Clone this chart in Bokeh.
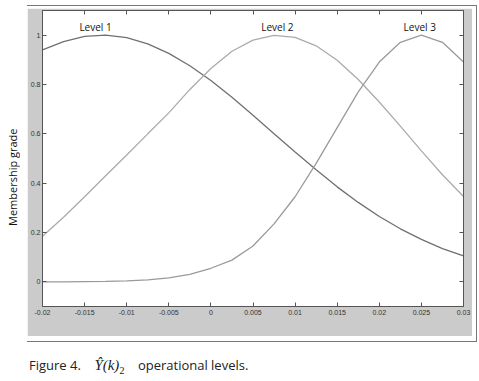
from bokeh.plotting import figure
from bokeh.models import (Range1d, FixedTicker, LinearAxis, Label, Div, Spacer,
                          ColumnDataSource)
from bokeh.layouts import row, column
from bokeh.core.properties import value
from bokeh.embed import file_html
from bokeh.resources import INLINE

# ---------------- data ----------------
service = [-0.02, -0.0175, -0.015, -0.0125, -0.01, -0.0075, -0.005, -0.0025, 0.0,
           0.0025, 0.005, 0.0075, 0.01, 0.0125, 0.015, 0.0175, 0.02, 0.0225,
           0.025, 0.0275, 0.03]
level1 = [0.940, 0.974, 0.995, 1.000, 0.990, 0.965, 0.926, 0.876, 0.816, 0.748,
          0.675, 0.600, 0.526, 0.454, 0.385, 0.322, 0.265, 0.215, 0.172, 0.135, 0.105]
level2 = [0.185, 0.262, 0.345, 0.430, 0.514, 0.600, 0.685, 0.780, 0.865, 0.935,
          0.980, 0.999, 0.991, 0.957, 0.898, 0.820, 0.729, 0.631, 0.531, 0.434, 0.346]
level3 = [0.000, 0.000, 0.001, 0.002, 0.004, 0.008, 0.016, 0.030, 0.055, 0.088,
          0.145, 0.235, 0.345, 0.480, 0.625, 0.770, 0.891, 0.971, 1.000, 0.971, 0.891]
level_names = ["Level 1", "Level 2", "Level 3"]

x_ticks = [-0.02, -0.015, -0.01, -0.005, 0.0, 0.005, 0.01, 0.015, 0.02, 0.025, 0.03]
x_tick_labels = ["-0.02", "-0.015", "-0.01", "-0.005", "0", "0.005", "0.01",
                 "0.015", "0.02", "0.025", "0.03"]
y_ticks = [0.0, 0.2, 0.4, 0.6, 0.8, 1.0]
y_tick_labels = ["0", "0.2", "0.4", "0.6", "0.8", "1"]

# label anchors (annotation positions, data units)
level_label_x = [-0.0137, 0.0079, 0.0248]
level_label_y = 1.035

GRAY_BG = "#cbcbcb"
AX = "#555555"
TICK_FONT = "Liberation Sans"

p = figure(width=445, height=328,
           x_range=Range1d(-0.02, 0.03), y_range=Range1d(-0.1, 1.1),
           output_backend="svg", toolbar_location=None,
           min_border_left=13, min_border_right=9, min_border_top=2, min_border_bottom=30,
           border_fill_color=GRAY_BG, background_fill_color="white",
           outline_line_color=AX, margin=(3, 0, 0, 0))
p.grid.visible = False

def style_axis(ax, ticks, labels=None, show_labels=True):
    ax.ticker = FixedTicker(ticks=ticks)
    ax.major_tick_in = 4
    ax.major_tick_out = 0
    ax.minor_tick_line_color = None
    ax.axis_line_color = AX
    ax.major_tick_line_color = AX
    if show_labels:
        ax.major_label_overrides = dict(zip(ticks, labels))
        ax.major_label_text_font = TICK_FONT
        ax.major_label_text_font_size = "7px"
        ax.major_label_text_color = "#333333"
        ax.major_label_standoff = 3
    else:
        ax.major_label_text_font_size = "0px"
        ax.major_label_text_color = None
        ax.major_label_standoff = 0

style_axis(p.xaxis[0], x_ticks, x_tick_labels)
style_axis(p.yaxis[0], y_ticks, y_tick_labels)
p.yaxis[0].major_label_standoff = 2

top_ax = LinearAxis()
style_axis(top_ax, x_ticks, show_labels=False)
p.add_layout(top_ax, "above")
right_ax = LinearAxis()
style_axis(right_ax, y_ticks, show_labels=False)
p.add_layout(right_ax, "right")

src = ColumnDataSource(dict(x=service, l1=level1, l2=level2, l3=level3))
p.line("x", "l1", source=src, line_color="#707070", line_width=1.3)
p.line("x", "l2", source=src, line_color="#ababab", line_width=1.3)
p.line("x", "l3", source=src, line_color="#9a9a9a", line_width=1.3)

lbl_src = ColumnDataSource(dict(x=level_label_x, y=[level_label_y] * len(level_names),
                                t=level_names))
p.text("x", "y", text="t", source=lbl_src, text_align="center", text_baseline="middle",
       text_font=value("Open Sans"), text_font_size="10px", text_color="#111111")

# x-axis title "Service Ŷ(k)₂" in a white box below the axis
x0, x1 = -0.02, 0.03
def frac_to_x(frac):
    return x0 + frac * (x1 - x0)

xl1 = Label(x=frac_to_x(0.409), y=-0.178, text="Service", text_align="left",
            text_baseline="middle", text_font="Open Sans", text_font_size="10px",
            text_color="#111111", background_fill_color="white",
            padding=(4, 36, 3, 3))
xl2 = Label(x=frac_to_x(0.492), y=-0.178, text="Ŷ(k)₂", text_align="left",
            text_baseline="middle", text_font="Liberation Serif", text_font_style="italic",
            text_font_size="12px", text_color="#111111")
p.add_layout(xl1)
p.add_layout(xl2)

H = 337
ylab = Div(width=23, height=H, margin=0,
           text='<div style="writing-mode: vertical-rl; transform: rotate(180deg); '
                'height: 325px; margin-top: 10px; margin-left: 1px; width: 16px; '
                'line-height: 16px; text-align: center; font-family: \'Open Sans\'; '
                'font-size: 11px; color: #111; white-space: nowrap; padding: 0;">'
                'Membership grade</div>',
           styles={"margin": "0", "padding": "0", "background": "white"})
right_edge = Spacer(width=5, height=H, margin=0)

box = row(ylab, p, right_edge, margin=0,
          styles={"outline": "1px solid #777777", "outline-offset": "-1px",
                  "background": "white"})

caption = Div(width=460, height=32, margin=0,
              text='<div style="padding-top: 15px; padding-left: 25px; line-height: 16px; '
                   'font-family: \'Open Sans\'; font-size: 13px; color: #222; white-space: nowrap;">'
                   'Figure 4.&nbsp;&nbsp;&nbsp;&nbsp;'
                   '<span style="font-family: \'Liberation Serif\'; font-style: italic; font-size: 15px;">'
                   'Ŷ(k)</span><span style="font-family: \'Liberation Serif\'; font-size: 10px; '
                   'position: relative; top: 4px;">2</span>'
                   '&nbsp;&nbsp;&nbsp;&nbsp;operational levels.</div>')

layout = column(box, caption, margin=(5, 0, 0, 4))

open("out.html", "w").write(file_html(layout, INLINE))
